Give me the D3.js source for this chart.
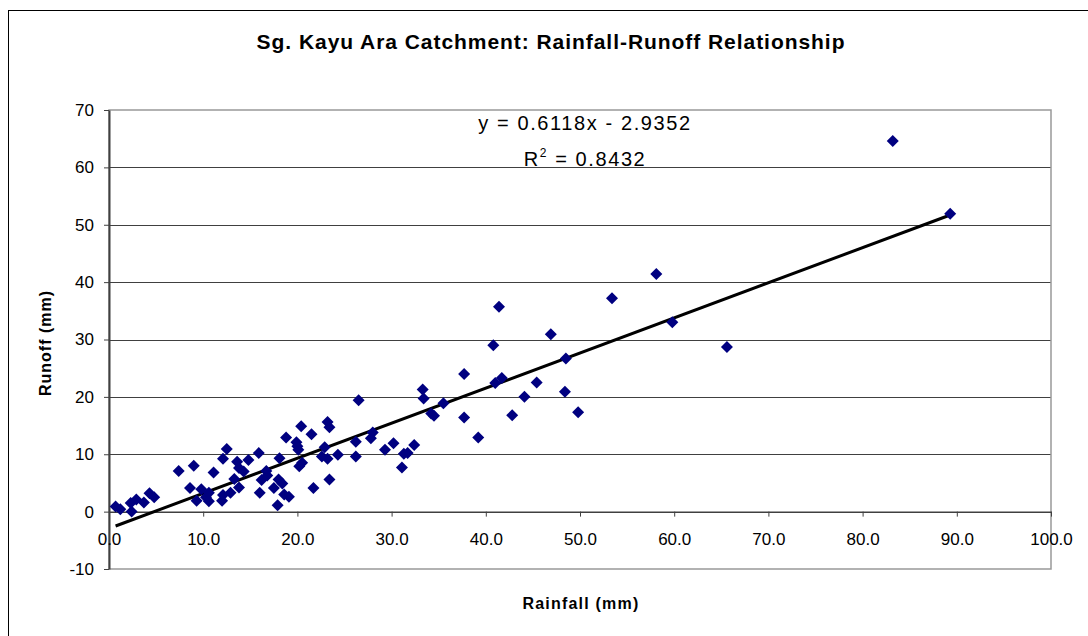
<!DOCTYPE html>
<html>
<head>
<meta charset="utf-8">
<script src="https://cdn.jsdelivr.net/npm/d3@7"></script>
<style>
  body { margin: 0; background: #fff; }
  text { font-family: Arial, 'Liberation Sans', sans-serif; }
</style>
</head>
<body>
<div id="chart"></div>
<script>
// rainfall (mm) and runoff (mm)
let rainfall = [
  0.7, 1.2, 2.4, 2.3, 2.9, 3.7, 4.3, 4.8,
  7.4, 9.0, 8.6, 9.3, 9.8, 10.3, 10.6, 11.1, 10.6,
  12.0, 12.1, 12.1, 12.5, 12.9, 13.3, 13.6, 13.8, 13.8, 14.3, 14.8,
  15.9, 16.0, 16.2, 16.7, 16.8, 17.5, 17.9, 18.1, 18.0, 18.4, 18.6, 19.1,
  18.8, 19.9, 20.0, 20.1, 20.4, 20.2, 20.5, 21.5, 21.7, 22.6, 22.9,
  23.2, 23.4, 23.2, 23.4, 24.3,
  26.5, 26.2, 26.2, 27.8, 28.0, 29.3, 30.2, 31.1, 31.3, 31.7, 32.4,
  33.3, 33.4, 34.2, 34.5, 35.5, 37.7, 37.7, 39.2,
  40.8, 41.0, 41.7, 41.4, 42.8, 44.1, 45.4, 46.9, 48.5, 48.4, 49.8,
  53.4, 58.1, 59.8, 65.6, 83.2, 89.3
]
let runoff = [
  0.9, 0.4, 0.0, 1.5, 2.1, 1.6, 3.2, 2.5,
  7.1, 8.0, 4.1, 1.9, 3.9, 2.5, 3.3, 6.8, 1.8,
  1.9, 2.9, 9.2, 10.9, 3.3, 5.7, 8.7, 4.2, 7.6, 7.0, 9.0,
  10.2, 3.3, 5.5, 7.1, 6.3, 4.1, 1.1, 9.3, 5.6, 4.9, 3.0, 2.6,
  12.9, 12.1, 11.4, 10.8, 14.9, 7.9, 8.5, 13.5, 4.1, 9.6, 11.2,
  15.6, 14.7, 9.2, 5.6, 9.9,
  19.4, 12.2, 9.6, 12.8, 13.8, 10.8, 11.9, 7.7, 10.1, 10.2, 11.6,
  21.3, 19.7, 17.1, 16.7, 18.9, 24.0, 16.4, 12.9,
  29.0, 22.4, 23.3, 35.7, 16.8, 20.0, 22.5, 30.9, 26.7, 20.9, 17.3,
  37.2, 41.4, 33.0, 28.7, 64.6, 51.9
]

// linear trend as printed on the chart
let slope = 0.6118
let intercept = -2.9352
let eqText = 'y = 0.6118x - 2.9352'
let r2Value = '0.8432'

let xTicks = [0, 10, 20, 30, 40, 50, 60, 70, 80, 90, 100]
let yTicks = [-10, 0, 10, 20, 30, 40, 50, 60, 70]

let width = 1088
let height = 636

let svg = d3
  .select('#chart')
  .append('svg')
  .attr('width', width)
  .attr('height', height)

let xScale = d3.scaleLinear().domain([0, 100]).range([109, 1051])
let yScale = d3.scaleLinear().domain([-10, 70]).range([569, 110])

let points = rainfall.map((d, i) => ({ x: d, y: runoff[i] }))

// outer chart frame (only left/top edges fall inside the picture)
svg
  .append('rect')
  .attr('x', 8.5)
  .attr('y', 10.5)
  .attr('width', 1200)
  .attr('height', 800)
  .attr('fill', 'none')
  .attr('stroke', '#000')
  .attr('stroke-width', 1)

// gridlines
svg
  .selectAll('.grid')
  .data(yTicks.filter(d => d > 0 && d < 70))
  .enter()
  .append('line')
  .attr('x1', xScale(0))
  .attr('x2', xScale(100))
  .attr('y1', d => Math.round(yScale(d)) + 0.5)
  .attr('y2', d => Math.round(yScale(d)) + 0.5)
  .attr('stroke', '#404040')
  .attr('stroke-width', 1)

// plot area border
svg
  .append('rect')
  .attr('x', xScale(0))
  .attr('y', yScale(70))
  .attr('width', xScale(100) - xScale(0))
  .attr('height', yScale(-10) - yScale(70))
  .attr('fill', 'none')
  .attr('stroke', '#999')
  .attr('stroke-width', 1.5)

// y axis
let yAxis = d3
  .axisLeft(yScale)
  .tickValues(yTicks)
  .tickSize(5)
  .tickSizeOuter(0)
  .tickPadding(10)
  .tickFormat(d => String(d))

svg
  .append('g')
  .attr('transform', `translate(${xScale(0)},0)`)
  .call(yAxis)
  .call(g => g.select('.domain').attr('stroke', '#404040').attr('stroke-width', 2))
  .call(g => g.selectAll('.tick line').attr('stroke', '#404040'))
  .call(g =>
    g
      .selectAll('text')
      .attr('font-size', 17)
      .attr('font-family', 'Arial, Liberation Sans, sans-serif')
      .attr('fill', '#000')
  )

// x axis crosses at y = 0
let xAxis = d3
  .axisBottom(xScale)
  .tickValues(xTicks)
  .tickSize(5)
  .tickSizeOuter(0)
  .tickPadding(16)
  .tickFormat(d => d.toFixed(1))

svg
  .append('g')
  .attr('transform', `translate(0,${yScale(0)})`)
  .call(xAxis)
  .call(g => g.select('.domain').attr('stroke', '#404040').attr('stroke-width', 1.5))
  .call(g => g.selectAll('.tick line').attr('stroke', '#404040'))
  .call(g =>
    g
      .selectAll('text')
      .attr('font-size', 17)
      .attr('font-family', 'Arial, Liberation Sans, sans-serif')
      .attr('fill', '#000')
  )

// trendline over the range of the data
let xExtent = d3.extent(rainfall)
svg
  .append('line')
  .attr('x1', xScale(xExtent[0]))
  .attr('y1', yScale(slope * xExtent[0] + intercept))
  .attr('x2', xScale(xExtent[1]))
  .attr('y2', yScale(slope * xExtent[1] + intercept))
  .attr('stroke', '#000')
  .attr('stroke-width', 3)

// diamond markers
let diamond = d3.symbol().type(d3.symbolSquare).size(72)

svg
  .selectAll('.pt')
  .data(points)
  .enter()
  .append('path')
  .attr('d', diamond)
  .attr('transform', d => `translate(${xScale(d.x)},${yScale(d.y)}) rotate(45)`)
  .attr('fill', '#000080')

// trend equation
svg
  .append('text')
  .attr('x', 585)
  .attr('y', 130)
  .attr('text-anchor', 'middle')
  .attr('font-size', 20)
  .attr('letter-spacing', 1.6)
  .text(eqText)

let r2 = svg
  .append('text')
  .attr('x', 585)
  .attr('y', 166)
  .attr('text-anchor', 'middle')
  .attr('font-size', 20)
  .attr('letter-spacing', 1.6)
r2.append('tspan').text('R')
r2.append('tspan').attr('font-size', 12).attr('dy', -9).text('2')
r2.append('tspan').attr('dy', 9).text(' = ' + r2Value)

// title
svg
  .append('text')
  .attr('x', 551)
  .attr('y', 49)
  .attr('text-anchor', 'middle')
  .attr('font-size', 21)
  .attr('font-weight', 'bold')
  .attr('letter-spacing', 0.95)
  .text('Sg. Kayu Ara Catchment: Rainfall-Runoff Relationship')

// axis titles
svg
  .append('text')
  .attr('x', 581)
  .attr('y', 609)
  .attr('text-anchor', 'middle')
  .attr('font-size', 16)
  .attr('font-weight', 'bold')
  .attr('letter-spacing', 1.2)
  .text('Rainfall (mm)')

svg
  .append('text')
  .attr('transform', 'translate(51,343) rotate(-90)')
  .attr('text-anchor', 'middle')
  .attr('font-size', 16)
  .attr('font-weight', 'bold')
  .attr('letter-spacing', 1)
  .text('Runoff (mm)')
</script>
</body>
</html>
